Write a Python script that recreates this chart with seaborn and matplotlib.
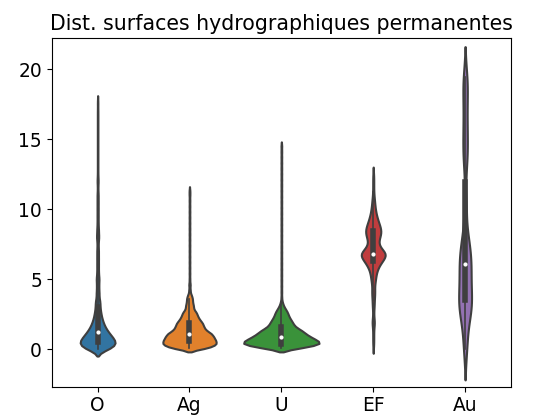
import numpy as np
import pandas as pd
import matplotlib
matplotlib.use("Agg")
import matplotlib.pyplot as plt
import seaborn as sns

categories = ["O", "Ag", "U", "EF", "Au"]

o_values = [0.0, 0.25, 0.5, 0.75, 1.0, 1.25, 1.5, 1.75, 2.0, 2.25, 2.5, 2.75, 3.0, 3.25,
            3.5, 4.0, 4.5, 5.0, 5.5, 6.0, 6.5, 7.0, 7.5, 8.0, 8.5, 9.0, 9.5, 10.0,
            10.5, 11.0, 11.5, 12.0, 12.5, 13.0, 13.5, 14.0, 14.5, 15.0, 15.5, 16.0,
            16.5, 17.0, 17.6]
o_counts = [22, 32, 33, 28, 23, 18, 14, 11, 9, 7, 6, 5, 4, 4,
            5, 5, 4, 5, 3, 3, 3, 3, 2, 4, 3, 2, 2, 2,
            2, 2, 1, 2, 1, 1, 1, 1, 1, 1, 1, 1,
            1, 1, 1]

ag_values = [0.1, 0.35, 0.6, 0.85, 1.1, 1.35, 1.6, 1.85, 2.1, 2.35, 2.6, 2.85, 3.1, 3.35,
             3.6, 3.85, 4.2, 4.6, 5.0, 5.4, 5.8, 6.2, 6.6, 7.0, 7.4, 7.8, 8.2, 8.6,
             9.0, 9.4, 9.8, 10.2, 10.6, 11.0, 11.3]
ag_counts = [40, 54, 52, 48, 44, 32, 28, 26, 20, 16, 14, 8, 8, 6,
             6, 4, 2, 2, 1, 1, 1, 1, 1, 1, 1, 1, 1, 1,
             1, 1, 1, 1, 1, 1, 1]

u_values = [0.1, 0.35, 0.6, 0.85, 1.1, 1.35, 1.6, 1.85, 2.1, 2.35, 2.6, 2.85, 3.1, 3.35,
            3.7, 4.1, 4.5, 4.9, 5.3, 5.7, 6.1, 6.5, 6.9, 7.3, 7.7, 8.1, 8.5, 8.9,
            9.3, 9.7, 10.1, 10.5, 10.9, 11.3, 11.7, 12.1, 12.5, 12.9, 13.3, 13.7,
            14.1, 14.5]
u_counts = [40, 76, 70, 56, 46, 38, 26, 22, 18, 14, 12, 8, 4, 2,
            1, 1, 1, 1, 1, 1, 1, 1, 1, 1, 1, 1, 1, 1,
            1, 1, 1, 1, 1, 1, 1, 1, 1, 1, 1, 1,
            1, 1]

ef_values = [0.3, 0.7, 1.1, 1.5, 1.9, 2.3, 2.7, 3.1, 3.5, 3.9, 4.3, 4.8, 5.2, 5.6, 6.0,
             6.4, 6.8, 7.2, 7.6, 8.0, 8.4, 8.8, 9.2, 9.6, 10.0, 10.4, 10.8, 11.2, 11.6,
             12.0, 12.4]
ef_counts = [1, 1, 1, 1, 3, 1, 1, 2, 2, 3, 3, 4, 5, 7, 12,
             20, 28, 14, 9, 13, 16, 13, 9, 6, 4, 3, 2, 1, 1,
             1, 1]

au_values = [0.0, 1.3, 2.5, 2.8, 3.0, 3.3, 3.7, 4.2, 4.7, 5.2, 5.7, 6.1, 6.5, 6.9,
             7.4, 8.2, 10.4, 13.4, 14.5, 15.7, 17.1, 18.5, 19.4]
au_counts = [1, 1, 1, 1, 1, 1, 1, 1, 1, 1, 1, 1, 1, 1,
             1, 1, 1, 1, 1, 1, 1, 1, 1]

title = "Dist. surfaces hydrographiques permanentes"
yticks = [0, 5, 10, 15, 20]

series = {
    "O": (o_values, o_counts),
    "Ag": (ag_values, ag_counts),
    "U": (u_values, u_counts),
    "EF": (ef_values, ef_counts),
    "Au": (au_values, au_counts),
}
frames = []
for cat in categories:
    vals, cnts = series[cat]
    frames.append(pd.DataFrame({"cat": cat, "val": np.repeat(vals, cnts)}))
df = pd.concat(frames, ignore_index=True)

# style parameters
colors = sns.color_palette("tab10", 5)
widths = [0.38, 0.58, 0.82, 0.26, 0.14]
bandwidths = [0.25, 0.15, 0.15, 0.3, 1.1]

fig, ax = plt.subplots(figsize=(5.34, 4.19), dpi=100)
fig.subplots_adjust(left=0.0968, right=0.957, bottom=0.077, top=0.909)

for i, cat in enumerate(categories):
    sub = df[df["cat"] == cat]
    factor = bandwidths[i] / sub["val"].std()
    sns.violinplot(data=sub, x="cat", y="val", order=categories, color=colors[i],
                   width=widths[i], density_norm="width", bw_method=factor, cut=2,
                   inner="box", linewidth=1.5, linecolor="#3f3f3f",
                   inner_kws=dict(box_width=4, whis_width=1.2, marker="o",
                                  markersize=2.2),
                   ax=ax)

ax.set_ylim(-2.69, 22.21)
ax.set_xlim(-0.5, 4.5)
ax.set_yticks(yticks)
ax.set_xlabel("")
ax.set_ylabel("")
ax.tick_params(labelsize=13.4)
ax.set_title(title, fontsize=14.8)

fig.savefig("out.png", dpi=100)
